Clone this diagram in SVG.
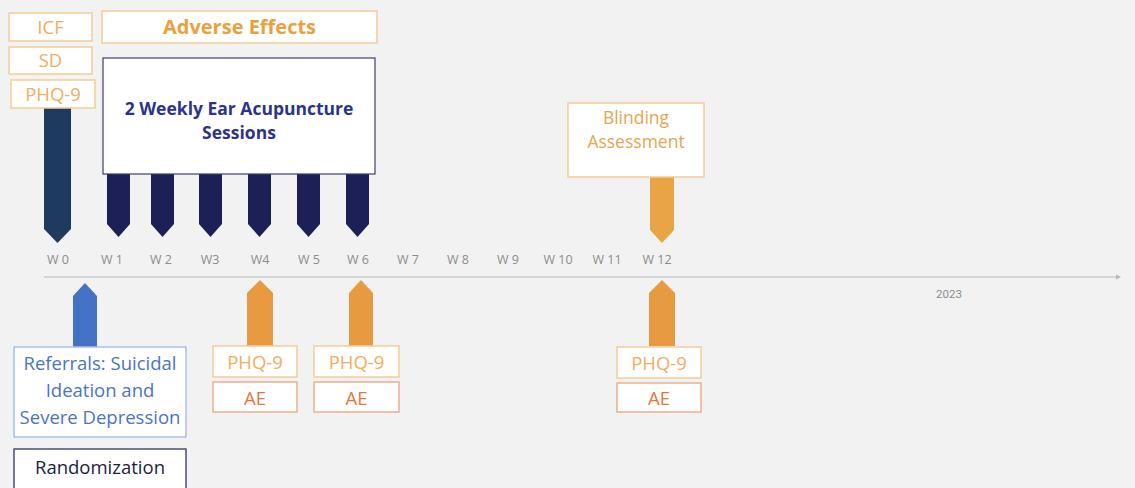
<svg xmlns="http://www.w3.org/2000/svg" width="1135" height="488" viewBox="0 0 1135 488">
<style>
  text { font-family: "Open Sans", "Liberation Sans", sans-serif; text-anchor: middle; }
  .ob { fill: #ffffff; stroke: #f3cd97; stroke-width: 1.5; }
  .oe { fill: #ffffff; stroke: #eeae8a; stroke-width: 1.5; }
  .ot { fill: #f2ac5e; font-size: 18.5px; }
  .ae { fill: #e4763a; font-size: 18.5px; }
  .wk { fill: #8c8c8c; font-size: 12.5px; }
  .navy { fill: #1d2057; }
  .org { fill: #e89a41; }
</style>
<rect x="0" y="0" width="1135" height="488" fill="#f2f2f2"/>

<g id="connectors">
  <line x1="44" y1="277" x2="1118" y2="277" stroke="#b8b8b8" stroke-width="1"/>
  <path d="M1116,274.5 L1121,277 L1116,279.5 Z" fill="#b8b8b8"/>
  <path d="M44,108 H71 V229 L57.5,243 L44,229 Z" fill="#1f3a5f"/>
  <path class="navy" d="M107,174 H130 V224 L118.5,237 L107,224 Z"/>
  <path class="navy" d="M151,174 H174 V224 L162.5,237 L151,224 Z"/>
  <path class="navy" d="M199,174 H222 V224 L210.5,237 L199,224 Z"/>
  <path class="navy" d="M248,174 H271 V224 L259.5,237 L248,224 Z"/>
  <path class="navy" d="M297,174 H320 V224 L308.5,237 L297,224 Z"/>
  <path class="navy" d="M346,174 H369 V224 L357.5,237 L346,224 Z"/>
  <path d="M650,177 H674 V230 L662,243 L650,230 Z" fill="#e8a445"/>
  <path d="M73,347 V296 L85,283 L97,296 V347 Z" fill="#4472c4"/>
  <path class="org" d="M247,346 V293 L260,280 L273,293 V346 Z"/>
  <path class="org" d="M349,346 V293 L361,280 L373,293 V346 Z"/>
  <path class="org" d="M649,346 V293 L662,280 L675,293 V346 Z"/>
</g>

<g id="week-labels">
  <text class="wk" x="58" y="264">W 0</text>
  <text class="wk" x="112" y="264">W 1</text>
  <text class="wk" x="161" y="264">W 2</text>
  <text class="wk" x="210" y="264">W3</text>
  <text class="wk" x="260" y="264">W4</text>
  <text class="wk" x="309" y="264">W 5</text>
  <text class="wk" x="358" y="264">W 6</text>
  <text class="wk" x="408" y="264">W 7</text>
  <text class="wk" x="458" y="264">W 8</text>
  <text class="wk" x="508" y="264">W 9</text>
  <text class="wk" x="558" y="264">W 10</text>
  <text class="wk" x="607" y="264">W 11</text>
  <text class="wk" x="657" y="264">W 12</text>
  <text x="949" y="298" fill="#8c8c8c" font-size="11.5" style="font-family: Roboto, 'Liberation Sans', sans-serif">2023</text>
</g>

<g id="icf">
  <rect class="ob" x="9" y="13" width="83" height="28"/>
  <text class="ot" x="50.5" y="34">ICF</text>
</g>
<g id="sd">
  <rect class="ob" x="9" y="47" width="83" height="27"/>
  <text class="ot" x="50.5" y="67">SD</text>
</g>
<g id="phq-w0">
  <rect class="ob" x="11" y="80" width="84" height="28"/>
  <text class="ot" x="53" y="101">PHQ-9</text>
</g>
<g id="adverse-effects">
  <rect class="ob" x="102" y="11" width="275" height="32"/>
  <text x="239.5" y="34" fill="#e9a13e" font-size="20" font-weight="bold">Adverse Effects</text>
</g>
<g id="sessions">
  <rect x="103" y="58" width="272" height="116" fill="#ffffff" stroke="#3c3f70" stroke-width="1.2"/>
  <text x="239" y="115" fill="#2b3488" font-size="17.5" font-weight="bold">2 Weekly Ear Acupuncture</text>
  <text x="239" y="139" fill="#2b3488" font-size="17.5" font-weight="bold">Sessions</text>
</g>
<g id="blinding">
  <rect class="ob" x="568" y="103" width="136" height="74"/>
  <text x="636" y="124" fill="#e3a651" font-size="17.5">Blinding</text>
  <text x="636" y="148" fill="#e3a651" font-size="17.5">Assessment</text>
</g>
<g id="referrals">
  <rect x="14" y="347" width="172" height="90" fill="#ffffff" stroke="#a9c0e6" stroke-width="1.5"/>
  <text x="100" y="370" fill="#4a74c0" font-size="18.5">Referrals: Suicidal</text>
  <text x="100" y="397" fill="#4a74c0" font-size="18.5">Ideation and</text>
  <text x="100" y="424" fill="#4a74c0" font-size="18.5">Severe Depression</text>
</g>
<g id="randomization">
  <rect x="14" y="449" width="172" height="50" fill="#ffffff" stroke="#4b4e78" stroke-width="1.5"/>
  <text x="100" y="474" fill="#1c2140" font-size="18.5">Randomization</text>
</g>
<g id="phq-w4">
  <rect class="ob" x="213" y="346" width="84" height="31"/>
  <text class="ot" x="255" y="368.5">PHQ-9</text>
</g>
<g id="ae-w4">
  <rect class="oe" x="213" y="382" width="84" height="30"/>
  <text class="ae" x="255" y="404.5">AE</text>
</g>
<g id="phq-w6">
  <rect class="ob" x="314" y="346" width="85" height="31"/>
  <text class="ot" x="356.5" y="368.5">PHQ-9</text>
</g>
<g id="ae-w6">
  <rect class="oe" x="314" y="382" width="85" height="30"/>
  <text class="ae" x="356.5" y="404.5">AE</text>
</g>
<g id="phq-w12">
  <rect class="ob" x="617" y="347" width="84" height="31"/>
  <text class="ot" x="659" y="369.5">PHQ-9</text>
</g>
<g id="ae-w12">
  <rect class="oe" x="617" y="383" width="84" height="29"/>
  <text class="ae" x="659" y="405">AE</text>
</g>
</svg>
